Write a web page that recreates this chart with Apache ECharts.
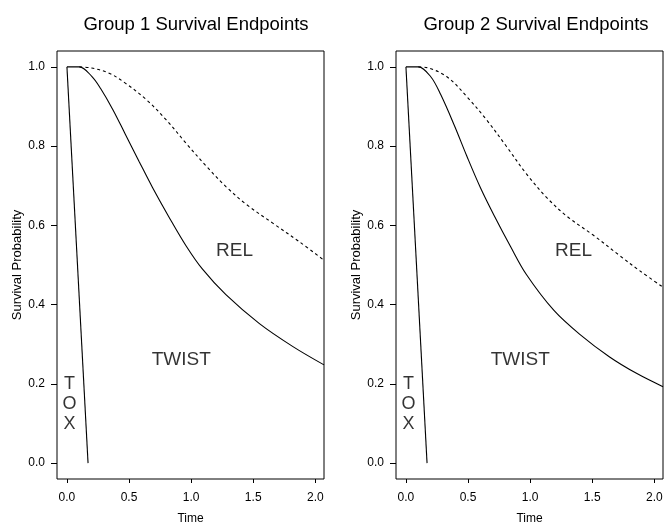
<!DOCTYPE html>
<html>
<head>
<meta charset="utf-8">
<script src="https://cdn.jsdelivr.net/npm/echarts@6/dist/echarts.min.js"></script>
<style>
  html, body { margin: 0; padding: 0; background: #fff; }
  #chart { width: 666px; height: 525px; }
</style>
</head>
<body>
<div id="chart"></div>
<script>
// tick labels
const xTicks = [0, 0.5, 1.0, 1.5, 2.0]
const yTicks = [0, 0.2, 0.4, 0.6, 0.8, 1.0]
const titles = ['Group 1 Survival Endpoints', 'Group 2 Survival Endpoints']

// toxicity line (same in both groups)
const tox = [[0, 1], [0.17, 0]]

// group 1 curves [time, survival]
const g1Twist = [[0, 1], [0.1, 1], [0.2, 0.976], [0.27, 0.946], [0.37, 0.892], [0.47, 0.83], [0.58, 0.762], [0.69, 0.695], [0.82, 0.622], [0.96, 0.548], [1.09, 0.49], [1.28, 0.425], [1.55, 0.352], [1.82, 0.294], [2.07, 0.248]]
const g1Rel = [[0.1, 1], [0.2, 0.997], [0.34, 0.984], [0.47, 0.959], [0.64, 0.917], [0.8, 0.866], [0.96, 0.807], [1.12, 0.75], [1.28, 0.698], [1.44, 0.654], [1.66, 0.605], [1.87, 0.559], [2.07, 0.512]]

// group 2 curves
const g2Twist = [[0, 1], [0.1, 1], [0.2, 0.975], [0.28, 0.93], [0.39, 0.852], [0.49, 0.775], [0.6, 0.695], [0.71, 0.625], [0.84, 0.548], [0.97, 0.476], [1.19, 0.386], [1.4, 0.325], [1.64, 0.268], [1.86, 0.226], [2.07, 0.193]]
const g2Rel = [[0.1, 1], [0.17, 0.998], [0.33, 0.975], [0.49, 0.925], [0.65, 0.866], [0.81, 0.799], [0.97, 0.73], [1.14, 0.668], [1.3, 0.622], [1.51, 0.575], [1.72, 0.524], [1.88, 0.486], [2.07, 0.444]]

// region labels [time, survival, text, font size]
const regionLabels = [[1.35, 0.535, 'REL', 19], [0.92, 0.262, 'TWIST', 19], [0.02, 0.148, 'T\nO\nX', 18]]

const font = 'Liberation Sans, Arial, sans-serif'
const chart = echarts.init(document.getElementById('chart'))

const grids = [
  { left: 57, top: 51, width: 267, height: 428 },
  { left: 396, top: 51, width: 267, height: 428 }
].map(g => Object.assign(g, {
  show: true, borderColor: '#000', borderWidth: 1, backgroundColor: 'transparent',
  containLabel: false, outerBoundsMode: 'none'
}))

function xAxis(i) {
  return {
    type: 'value', gridIndex: i, min: -0.08, max: 2.07,
    name: 'Time', nameLocation: 'middle', nameGap: 34,
    nameTextStyle: { color: '#000', fontSize: 12, fontFamily: font },
    axisLine: { show: false, onZero: false },
    axisTick: { show: true, length: 4, customValues: xTicks, lineStyle: { color: '#000' } },
    axisLabel: { color: '#000', fontSize: 12, fontFamily: font, margin: 13, customValues: xTicks, formatter: v => v.toFixed(1) },
    splitLine: { show: false }
  }
}

function yAxis(i) {
  return {
    type: 'value', gridIndex: i, min: -0.04, max: 1.04,
    name: 'Survival Probability', nameLocation: 'middle', nameGap: 32,
    nameTextStyle: { color: '#000', fontSize: 13, fontFamily: font },
    axisLine: { show: false, onZero: false },
    axisTick: { show: true, length: 6, customValues: yTicks, lineStyle: { color: '#000' } },
    axisLabel: { color: '#000', fontSize: 12, fontFamily: font, margin: 12, customValues: yTicks, formatter: v => v.toFixed(1) },
    splitLine: { show: false }
  }
}

function lineSeries(i, data, dashed) {
  return {
    type: 'line', xAxisIndex: i, yAxisIndex: i, data: data,
    showSymbol: false, smooth: 0.35, silent: true,
    lineStyle: { color: '#000', width: 1.1, type: dashed ? [3, 3] : 'solid' }
  }
}

function labelSeries(i) {
  return {
    type: 'scatter', xAxisIndex: i, yAxisIndex: i, symbolSize: 0, silent: true,
    data: regionLabels.map(d => ({ value: [d[0], d[1]], name: d[2], label: { fontSize: d[3] } })),
    label: {
      show: true, position: 'inside', formatter: p => p.name,
      color: '#000', textBorderWidth: 0, textBorderColor: 'transparent',
      fontFamily: font, lineHeight: 20, align: 'center', verticalAlign: 'middle'
    }
  }
}

chart.setOption({
  backgroundColor: '#fff',
  animation: false,
  title: [
    { text: titles[0], left: 191, top: 10, textAlign: 'center', textStyle: { color: '#000', fontSize: 18.5, fontWeight: 'normal', fontFamily: font } },
    { text: titles[1], left: 531, top: 10, textAlign: 'center', textStyle: { color: '#000', fontSize: 18.5, fontWeight: 'normal', fontFamily: font } }
  ],
  grid: grids,
  xAxis: [xAxis(0), xAxis(1)],
  yAxis: [yAxis(0), yAxis(1)],
  series: [
    lineSeries(0, tox, false),
    lineSeries(0, g1Twist, false),
    lineSeries(0, g1Rel, true),
    labelSeries(0),
    lineSeries(1, tox, false),
    lineSeries(1, g2Twist, false),
    lineSeries(1, g2Rel, true),
    labelSeries(1)
  ]
})
</script>
</body>
</html>
